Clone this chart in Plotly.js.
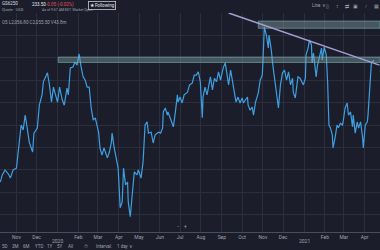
<!DOCTYPE html>
<html><head><meta charset="utf-8">
<script src="https://cdn.plot.ly/plotly-3.0.1.min.js"></script>
<style>html,body{margin:0;padding:0;background:#1b1e2a;}#c{width:380px;height:250px;}</style>
</head><body><div id="c"></div>
<script>
const dates = [
"2019-10-08","2019-10-11","2019-10-15","2019-10-20","2019-10-23","2019-10-27","2019-11-01","2019-11-02","2019-11-04","2019-11-08",
"2019-11-11","2019-11-14","2019-11-17","2019-11-20","2019-11-25","2019-11-27","2019-12-02","2019-12-05","2019-12-09","2019-12-11",
"2019-12-17","2019-12-20","2019-12-23","2019-12-26","2019-12-29","2020-01-01","2020-01-04","2020-01-08","2020-01-11","2020-01-15",
"2020-01-17","2020-01-20","2020-01-24","2020-01-27","2020-01-30","2020-02-02","2020-02-05","2020-02-08","2020-02-11","2020-02-14",
"2020-02-17","2020-02-20","2020-02-23","2020-02-26","2020-03-02","2020-03-04","2020-03-07","2020-03-10","2020-03-15","2020-03-18",
"2020-03-21","2020-03-22","2020-03-25","2020-03-30","2020-03-31","2020-04-03","2020-04-06","2020-04-08","2020-04-11","2020-04-14",
"2020-04-15","2020-04-18","2020-04-21","2020-04-24","2020-04-28","2020-04-30","2020-05-04","2020-05-07","2020-05-10","2020-05-13",
"2020-05-15","2020-05-19","2020-05-22","2020-05-25","2020-05-30","2020-06-02","2020-06-05","2020-06-06","2020-06-09","2020-06-12",
"2020-06-13","2020-06-18","2020-06-21","2020-06-24","2020-06-27","2020-06-28","2020-07-01","2020-07-04","2020-07-07","2020-07-12",
"2020-07-15","2020-07-19","2020-07-22","2020-07-25","2020-07-28","2020-07-31","2020-08-03","2020-08-04","2020-08-07","2020-08-10",
"2020-08-12","2020-08-15","2020-08-18","2020-08-21","2020-08-24","2020-08-27","2020-08-30","2020-09-02","2020-09-03","2020-09-06",
"2020-09-09","2020-09-11","2020-09-14","2020-09-16","2020-09-18","2020-09-22","2020-09-25","2020-09-28","2020-10-01","2020-10-03",
"2020-10-06","2020-10-09","2020-10-10","2020-10-13","2020-10-16","2020-10-18","2020-10-21","2020-10-24","2020-10-25","2020-10-28",
"2020-10-31","2020-11-01","2020-11-03","2020-11-06","2020-11-09","2020-11-10","2020-11-13","2020-11-16","2020-11-19","2020-11-22",
"2020-11-24","2020-11-27","2020-11-30","2020-12-03","2020-12-06","2020-12-09","2020-12-12","2020-12-15","2020-12-16","2020-12-19",
"2020-12-22","2020-12-23","2020-12-26","2020-12-29","2020-12-31","2021-01-03","2021-01-04","2021-01-07","2021-01-09","2021-01-12",
"2021-01-13","2021-01-15","2021-01-18","2021-01-19","2021-01-21","2021-01-24","2021-01-27","2021-01-28","2021-01-31","2021-02-03",
"2021-02-05","2021-02-07","2021-02-09","2021-02-12","2021-02-13","2021-02-16","2021-02-19","2021-02-21","2021-02-24","2021-02-27",
"2021-02-28","2021-03-03","2021-03-06","2021-03-08","2021-03-11","2021-03-14","2021-03-15","2021-03-18","2021-03-21","2021-03-23",
"2021-03-26","2021-03-29","2021-03-30","2021-04-02","2021-04-05","2021-04-06","2021-04-09","2021-04-11","2021-04-12","2021-04-15"
];
const prices = [
1923,1939,1950,1941,1932,1950,1954,1968,1999,2050,
2039,2072,2043,2012,1990,2032,2043,2094,2117,2146,
2166,2139,2101,2134,2117,2101,2134,2106,2094,2132,
2117,2177,2179,2190,2183,2208,2179,2157,2150,2134,
2134,2088,2061,2066,2034,1999,1983,1999,1977,1990,
2012,2032,2001,1968,1954,1866,1879,1954,1917,1923,
1879,1846,1894,1946,1939,1950,1932,1968,2050,2057,
2032,2034,2010,2028,2034,2032,2043,2079,2088,2072,
2079,2057,2046,2079,2117,2101,2112,2099,2117,2123,
2139,2143,2161,2161,2168,2146,2066,2112,2134,2117,
2132,2157,2128,2154,2146,2168,2150,2172,2177,2188,
2154,2139,2172,2154,2143,2101,2112,2099,2110,2099,
2106,2112,2094,2083,2090,2072,2101,2117,2121,2150,
2161,2190,2268,2250,2221,2250,2221,2179,2146,2112,
2088,2139,2166,2172,2150,2168,2139,2154,2123,2110,
2146,2157,2154,2146,2139,2154,2206,2221,2239,2228,
2188,2210,2172,2157,2183,2199,2221,2194,2223,2206,
2146,2050,2044,2028,1999,2021,2050,2044,2054,2050,
2057,2088,2099,2072,2079,2046,2072,2032,2057,2043,
2057,2021,1999,2050,2057,2072,2146,2188,2190,2194
];
const monthTicks = ["2019-11-01","2019-12-01","2020-01-01","2020-02-01","2020-03-01","2020-04-01","2020-05-01","2020-06-01","2020-07-01","2020-08-01","2020-09-01","2020-10-01","2020-11-01","2020-12-01","2021-01-01","2021-02-01","2021-03-01","2021-04-01"];
const monthLabels = ["Nov","Dec","","Feb","Mar","Apr","May","Jun","Jul","Aug","Sep","Oct","Nov","Dec","","Feb","Mar","Apr"];
const yearTicks = ["2020-01-01","2021-01-01"];
const yearLabels = ["2020","2021"];
const priceGrid = [1850,1900,1950,2000,2050,2100,2150,2200,2250];
const resistanceHigh = [2265,2281];
const resistanceLow = [2189,2201];
const trendStart = ["2020-09-11",2299];
const trendEnd = ["2021-04-23",2183];

const txt = '#9ea2ad';
const F = 'Roboto, "Noto Sans", sans-serif';
function yp(Y){return (232-Y)/219;}
function xp(X){return X/380;}
const ann = [];
function A(text,X,Y,opt){ann.push(Object.assign({text:text,xref:'paper',yref:'paper',x:xp(X),y:yp(Y),xanchor:'left',yanchor:'middle',showarrow:false,font:{family:F,size:5,color:txt}},opt||{}));}
A('GS6250',0,3.5,{font:{family:F,size:4.5,color:'#d8dae0'}});
A('Quote · USD',0,9,{font:{family:F,size:4,color:txt}});
A('233.50',30,4,{font:{family:F,size:4.5,color:'#e6e8ee'}});
A('-0.05 (-0.02%)',44,4,{font:{family:F,size:4.5,color:'#e0505a'}});
A('As of 9:57 AM EDT. Market Open.',40,9.5,{font:{family:F,size:3.5,color:txt}});
A('★ Following',88,6,{font:{family:F,size:4.5,color:'#e6e8ee'},bordercolor:'#c8cad2',borderwidth:0.8,borderpad:1});
A('O5 L2,056.80 C2,055.50 V43.8m',0,22,{font:{family:F,size:4.5,color:txt}});
A('Line ∨',310,6,{font:{family:F,size:4.5,color:txt}});
['▯','↕','⇄','▣','⁄','▦'].forEach((g,i)=>A(g,[327,337,347,355,366,376][i],6,{xanchor:'center',font:{family:F,size:5,color:txt}}));
const rangeBtns=['5D','3M','6M','YTD','1Y','5Y','All'];
[0,10,21,33,45,55,66].forEach((X,i)=>A(rangeBtns[i],X,246,{font:{family:F,size:4.5,color:txt}}));
A('⏱',82,246,{font:{family:F,size:5,color:txt}});
A('Interval:',94,246,{font:{family:F,size:4.5,color:txt}});
A('1 day ∨',115,246,{font:{family:F,size:4.5,color:txt}});
A('−',178,226,{xanchor:'center',font:{family:F,size:5,color:txt}});
A('+',185,226,{xanchor:'center',font:{family:F,size:5,color:txt}});
yearTicks.forEach((d,i)=>ann.push({text:yearLabels[i],xref:'x',yref:'paper',x:d,y:yp(241),xanchor:'center',yanchor:'middle',showarrow:false,font:{family:F,size:5,color:txt}}));

const trace = {x:dates,y:prices,type:'scatter',mode:'lines',line:{color:'#3f9ee0',width:1.2},hoverinfo:'skip'};
const layout = {
  width:380,height:250,margin:{l:0,r:0,t:13,b:18},
  paper_bgcolor:'#1b1e2a',plot_bgcolor:'#1b1e2a',showlegend:false,
  xaxis:{type:'date',range:['2019-10-07 14:00','2021-04-23 19:00'],tickvals:monthTicks,ticktext:monthLabels,
    showgrid:true,gridcolor:'#2b2f3c',gridwidth:1,showline:true,linecolor:'#4a4e5b',linewidth:1,
    ticks:'',tickfont:{family:F,size:5,color:txt},zeroline:false,fixedrange:true},
  yaxis:{range:[1812.2,2298.9],tickvals:priceGrid,showticklabels:false,showgrid:true,gridcolor:'#2b2f3c',zeroline:false,fixedrange:true},
  shapes:[
    {type:'rect',xref:'x',yref:'y',x0:'2020-10-25',x1:'2021-04-23 19:00',y0:resistanceHigh[0],y1:resistanceHigh[1],fillcolor:'rgba(140,165,170,0.42)',line:{color:'rgba(110,180,180,0.6)',width:1}},
    {type:'rect',xref:'x',yref:'y',x0:'2020-01-02',x1:'2021-04-23 19:00',y0:resistanceLow[0],y1:resistanceLow[1],fillcolor:'rgba(130,165,170,0.42)',line:{color:'rgba(110,180,180,0.6)',width:1}},
    {type:'line',xref:'x',yref:'y',x0:trendStart[0],y0:trendStart[1],x1:trendEnd[0],y1:trendEnd[1],line:{color:'#a59dd0',width:1.5}}
  ],
  annotations:ann
};
Plotly.newPlot('c',[trace],layout,{displayModeBar:false,staticPlot:true});
</script></body></html>
